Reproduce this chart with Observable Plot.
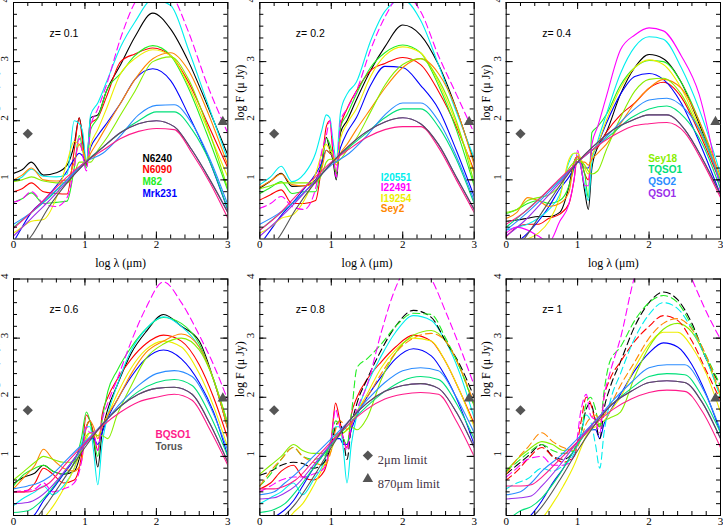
<!DOCTYPE html>
<html>
<head>
<meta charset="utf-8">
<script src="https://cdn.jsdelivr.net/npm/d3@7"></script>
<script src="https://cdn.jsdelivr.net/npm/@observablehq/plot@0.6"></script>
<style>
  body { margin: 0; background: #fff; }
  #chart svg { display: block; }
</style>
</head>
<body>
<div id="chart"></div>
<script>
// SED templates shifted to six redshifts, log F (uJy) vs observed log lambda (um)
const templates = ["N6240", "N6090", "M82", "Mrk231", "I20551", "I22491", "I19254", "Sey2",
  "Sey18", "TQSO1", "QSO2", "QSO1", "BQSO1", "Torus"];
const colors = ["#000000", "#ff0000", "#22ee22", "#0000ff", "#00eeee", "#ff00ff", "#eeee00", "#ff8800",
  "#88ee00", "#00e07a", "#2a8cff", "#9a2eea", "#ff1a8a", "#555555"];
const zLabels = ["z= 0.1", "z= 0.2", "z= 0.4", "z= 0.6", "z= 0.8", "z= 1"];

// flux limits (2um and 870um)
const limitWave = [0.2, 2.93];
const limitFlux = [1.78, 1.98];
const limitLabels = ["2μm limit", "870μm limit"];

const xTicks = [0, 1, 2, 3];
const yTicks = [1, 2, 3, 4];

// smooth AGN-like templates (TQSO1, QSO2, QSO1, BQSO1, Torus) share one grid per panel
const agnGridLow = [0, 0.25, 0.5, 0.75, 1.0, 1.25, 1.5, 1.75, 2.0, 2.25, 2.5, 2.75, 3.0];
const agnGridHigh = [0, 0.2, 0.35, 0.5, 0.75, 1.0, 1.25, 1.5, 1.75, 2.0, 2.25, 2.5, 2.75, 3.0];

// ---- z = 0.1
const grid01 = [0, 0.12, 0.25, 0.42, 0.6, 0.75, 0.85, 0.92, 0.97, 1.02, 1.08, 1.18, 1.3, 1.5, 1.7, 1.95, 2.2, 2.45, 2.7, 3.0];
const seds01 = [
  [1.11, 1.17, 1.30, 1.08, 1.12, 1.25, 1.6, 2.05, 1.7, 1.25, 2.05, 2.1, 2.5, 2.95, 3.42, 3.82, 3.55, 3.0, 2.3, 1.42],
  [0.8, 0.85, 0.95, 0.8, 0.77, 0.76, 1.5, 2.05, 1.6, 1.25, 1.95, 2.05, 2.4, 3.0, 3.13, 3.23, 3.1, 2.65, 2.0, 1.2],
  [0.62, 0.68, 0.78, 0.6, 0.62, 0.64, 1.2, 1.75, 1.5, 1.2, 1.85, 2.05, 2.5, 2.8, 3.1, 3.27, 3.1, 2.55, 1.8, 0.82],
  [-0.05, 0.2, 0.45, 0.65, 0.9, 1.15, 1.35, 1.45, 1.4, 1.3, 1.55, 1.75, 1.95, 2.3, 2.7, 2.88, 2.68, 2.1, 1.45, 0.49],
  [0.98, 1.05, 1.18, 1.06, 1.05, 1.1, 2.0, 1.95, 1.8, 1.3, 2.1, 2.3, 2.65, 3.25, 3.67, 4.05, 3.95, 3.2, 2.35, 1.34],
  [0.62, 0.68, 0.8, 0.6, 0.55, 0.7, 1.2, 1.7, 1.4, 1.15, 1.9, 2.2, 2.6, 3.4, 4.0, 4.3, 4.15, 3.5, 2.65, 1.79],
  [0.1, 0.2, 0.3, 0.33, 0.7, 1.3, 1.65, 1.6, 1.5, 1.3, 1.6, 1.85, 2.2, 2.8, 3.05, 3.2, 3.1, 2.6, 1.9, 1.05],
  [1.0, 1.08, 1.2, 1.0, 0.98, 1.0, 1.3, 1.6, 1.5, 1.3, 1.45, 1.65, 1.9, 2.3, 2.7, 3.05, 3.15, 2.85, 2.2, 1.25],
  [0.97, 1.0, 1.05, 0.98, 0.95, 0.95, 1.1, 1.3, 1.3, 1.3, 1.3, 1.5, 1.7, 2.1, 2.5, 3.0, 3.08, 2.7, 1.95, 0.85]
];
const agn01 = [
  [0.2, 0.45, 0.7, 1.0, 1.3, 1.55, 1.8, 2.0, 2.15, 2.15, 1.85, 1.3, 0.5],
  [0.25, 0.45, 0.72, 1.0, 1.3, 1.45, 1.75, 2.1, 2.26, 2.27, 1.95, 1.35, 0.58],
  [0.05, 0.35, 0.65, 0.97, 1.28, 1.55, 1.8, 1.95, 2.0, 1.9, 1.5, 1.0, 0.45],
  [0.18, 0.45, 0.75, 1.05, 1.3, 1.5, 1.7, 1.82, 1.87, 1.85, 1.45, 0.95, 0.35],
  [-0.3, 0.05, 0.55, 0.95, 1.28, 1.55, 1.8, 1.95, 2.0, 1.9, 1.5, 1.0, 0.45]
];
const dashed01 = ["I22491"];

// ---- z = 0.2
const grid02 = [0, 0.15, 0.3, 0.45, 0.62, 0.78, 0.87, 0.93, 0.98, 1.02, 1.07, 1.13, 1.22, 1.35, 1.55, 1.75, 2.0, 2.25, 2.5, 2.75, 3.0];
const seds02 = [
  [0.86, 0.98, 1.11, 0.89, 0.9, 1.0, 1.3, 1.72, 1.5, 1.35, 1.0, 1.8, 2.0, 2.35, 2.85, 3.25, 3.62, 3.45, 2.95, 2.2, 1.3],
  [0.66, 0.75, 0.83, 0.6, 0.6, 0.65, 1.3, 1.9, 2.0, 1.5, 1.1, 1.9, 2.2, 2.5, 2.85, 2.97, 3.07, 2.95, 2.5, 1.9, 1.15],
  [0.77, 0.87, 0.97, 0.77, 0.8, 0.8, 1.3, 1.7, 1.6, 1.4, 1.1, 1.9, 2.1, 2.45, 2.9, 3.15, 3.28, 3.15, 2.6, 1.85, 0.9],
  [-0.1, 0.15, 0.4, 0.6, 0.85, 1.1, 1.3, 1.5, 1.45, 1.4, 1.3, 1.55, 1.8, 2.05, 2.6, 2.92, 2.9, 2.6, 2.2, 1.5, 0.72],
  [0.92, 1.05, 1.23, 0.97, 1.1, 1.45, 1.85, 2.1, 2.05, 1.7, 1.34, 2.15, 2.45, 2.65, 3.35, 3.85, 4.05, 3.7, 2.95, 2.15, 1.37],
  [0.52, 0.6, 0.72, 0.55, 0.5, 0.85, 1.5, 1.75, 2.0, 1.6, 1.05, 2.0, 2.2, 2.5, 3.2, 3.75, 4.15, 3.85, 3.1, 2.45, 1.79],
  [0.1, 0.2, 0.35, 0.4, 0.65, 1.1, 1.45, 1.6, 1.5, 1.45, 1.3, 1.7, 1.95, 2.2, 2.75, 3.1, 3.25, 3.15, 2.65, 1.95, 1.1],
  [0.88, 0.98, 1.1, 0.92, 0.9, 0.95, 1.2, 1.5, 1.45, 1.4, 1.25, 1.45, 1.6, 1.85, 2.2, 2.55, 2.9, 3.05, 2.8, 2.2, 1.25],
  [0.85, 0.9, 0.95, 0.95, 0.95, 0.95, 1.1, 1.3, 1.35, 1.35, 1.3, 1.35, 1.5, 1.7, 2.15, 2.6, 2.95, 3.05, 2.7, 2.0, 0.95]
];
const agn02 = [
  [0.15, 0.4, 0.65, 0.95, 1.28, 1.55, 1.8, 2.05, 2.2, 2.2, 1.9, 1.35, 0.6],
  [0.25, 0.42, 0.65, 0.95, 1.25, 1.45, 1.75, 2.1, 2.3, 2.3, 2.0, 1.4, 0.65],
  [0.05, 0.32, 0.62, 0.95, 1.28, 1.58, 1.82, 1.98, 2.05, 1.95, 1.6, 1.05, 0.5],
  [0.15, 0.4, 0.72, 1.02, 1.3, 1.52, 1.72, 1.85, 1.9, 1.9, 1.55, 1.0, 0.45],
  [-0.3, 0.0, 0.5, 0.92, 1.28, 1.58, 1.82, 1.98, 2.05, 1.95, 1.6, 1.05, 0.5]
];
const dashed02 = ["I22491"];

// ---- z = 0.4
const grid04 = [0, 0.15, 0.3, 0.45, 0.6, 0.75, 0.88, 0.95, 1.0, 1.05, 1.1, 1.15, 1.2, 1.28, 1.4, 1.6, 1.8, 2.0, 2.2, 2.45, 2.7, 3.0];
const seds04 = [
  [0.3, 0.32, 0.35, 0.38, 0.38, 0.45, 0.9, 1.3, 1.4, 1.2, 0.8, 0.5, 1.2, 1.55, 1.8, 2.45, 2.9, 3.12, 3.05, 2.65, 1.95, 0.95],
  [0.04, 0.2, 0.25, 0.25, 0.35, 0.42, 0.6, 1.0, 1.4, 1.3, 1.1, 1.0, 1.5, 1.55, 1.8, 2.1, 2.3, 2.55, 2.65, 2.4, 1.8, 0.95],
  [0.43, 0.5, 0.6, 0.65, 0.6, 0.65, 0.9, 1.2, 1.4, 1.3, 1.1, 0.7, 1.8, 1.9, 2.1, 2.6, 2.9, 3.02, 3.0, 2.65, 2.0, 0.95],
  [-0.1, -0.05, 0.1, 0.3, 0.55, 0.85, 1.05, 1.2, 1.3, 1.3, 1.2, 1.2, 1.4, 1.6, 1.95, 2.45, 2.75, 2.8, 2.7, 2.3, 1.65, 0.75],
  [0.15, 0.2, 0.25, 0.35, 0.5, 0.75, 1.3, 1.45, 1.45, 1.2, 0.9, 0.65, 1.3, 1.65, 2.1, 2.8, 3.25, 3.42, 3.38, 2.9, 2.2, 1.1],
  [0.1, 0.2, 0.15, 0.05, -0.05, 0.3, 0.6, 1.0, 1.5, 1.2, 0.9, 0.9, 1.6, 1.9, 2.4, 3.2, 3.45, 3.57, 3.52, 3.1, 2.45, 0.8],
  [-0.1, -0.05, 0.0, 0.1, 0.3, 0.7, 1.35, 1.45, 1.45, 1.35, 1.2, 1.1, 1.4, 1.6, 2.0, 2.55, 2.9, 3.03, 2.95, 2.55, 1.9, 1.0],
  [0.35, 0.45, 0.7, 0.65, 0.55, 0.6, 0.8, 1.3, 1.4, 1.3, 1.3, 1.25, 1.35, 1.45, 1.6, 1.95, 2.3, 2.55, 2.7, 2.55, 2.0, 1.05],
  [0.45, 0.5, 0.65, 0.7, 0.75, 0.9, 1.2, 1.3, 1.35, 1.3, 1.25, 1.15, 1.1, 1.15, 1.5, 2.05, 2.5, 2.7, 2.72, 2.45, 1.85, 1.0]
];
const agn04 = [
  [0.2, 0.45, 0.72, 1.0, 1.3, 1.55, 1.8, 2.05, 2.2, 2.25, 2.05, 1.6, 0.85],
  [0.15, 0.4, 0.68, 0.98, 1.3, 1.55, 1.85, 2.15, 2.35, 2.38, 2.2, 1.75, 0.95],
  [0.05, 0.3, 0.62, 0.95, 1.3, 1.6, 1.85, 2.0, 2.1, 2.1, 1.85, 1.35, 0.75],
  [0.25, 0.45, 0.72, 1.02, 1.3, 1.55, 1.75, 1.9, 1.95, 1.97, 1.8, 1.3, 0.7],
  [-0.3, 0.0, 0.45, 0.9, 1.3, 1.6, 1.85, 2.0, 2.1, 2.1, 1.85, 1.35, 0.75]
];
const dashed04 = [];

// ---- z = 0.6
const grid06 = [0, 0.15, 0.3, 0.42, 0.55, 0.7, 0.85, 0.95, 1.02, 1.07, 1.12, 1.18, 1.24, 1.32, 1.45, 1.65, 1.85, 2.1, 2.35, 2.6, 2.8, 3.0];
const seds06 = [
  [0.54, 0.65, 0.72, 0.85, 0.75, 0.7, 0.75, 1.1, 1.5, 1.6, 1.3, 0.82, 1.4, 1.8, 2.2, 2.75, 3.1, 3.4, 3.2, 2.95, 2.3, 1.47],
  [0.4, 0.4, 0.55, 0.8, 0.7, 0.55, 0.6, 1.0, 1.7, 1.6, 1.4, 1.1, 1.7, 2.0, 2.3, 2.65, 2.9, 3.05, 2.95, 2.55, 2.0, 1.3],
  [0.5, 0.7, 0.8, 0.85, 0.75, 0.7, 0.9, 1.3, 1.75, 1.6, 1.3, 1.0, 1.6, 2.1, 2.45, 2.85, 3.15, 3.35, 3.25, 2.9, 2.3, 1.55],
  [-0.2, -0.1, 0.02, 0.25, 0.45, 0.7, 0.95, 1.15, 1.25, 1.3, 1.3, 1.2, 1.4, 1.65, 1.95, 2.35, 2.65, 2.8, 2.65, 2.25, 1.75, 1.0],
  [0.17, 0.3, 0.4, 0.5, 0.35, 0.5, 0.8, 1.2, 1.5, 1.5, 1.1, 0.52, 1.2, 1.7, 2.2, 2.8, 3.15, 3.36, 3.2, 2.85, 2.3, 1.5],
  [0.4, 0.42, 0.45, 0.55, 0.4, 0.45, 0.55, 0.9, 1.5, 1.4, 1.4, 1.1, 1.6, 1.9, 2.3, 2.95, 3.5, 3.95, 3.6, 3.05, 2.55, 1.95],
  [-0.3, -0.25, -0.2, -0.05, 0.15, 0.45, 0.8, 1.1, 1.3, 1.4, 1.35, 1.35, 1.5, 1.7, 2.05, 2.5, 2.8, 2.95, 2.85, 2.4, 1.85, 1.15],
  [0.45, 0.65, 0.85, 1.12, 0.95, 0.8, 0.75, 0.9, 1.5, 1.6, 1.5, 1.3, 1.5, 1.7, 1.95, 2.4, 2.75, 2.95, 3.07, 2.85, 2.3, 1.45],
  [0.6, 0.75, 0.9, 1.0, 0.95, 0.9, 0.9, 1.1, 1.35, 1.4, 1.4, 1.35, 1.35, 1.3, 1.7, 2.2, 2.65, 2.9, 3.0, 2.8, 2.3, 1.55]
];
const agn06 = [
  [0.05, 0.08, 0.2, 0.4, 0.8, 1.2, 1.55, 1.85, 2.1, 2.25, 2.3, 2.2, 1.7, 1.0],
  [0.45, 0.5, 0.55, 0.65, 0.95, 1.25, 1.55, 1.9, 2.2, 2.4, 2.45, 2.35, 1.85, 1.1],
  [0.2, 0.22, 0.3, 0.45, 0.8, 1.2, 1.55, 1.85, 2.05, 2.15, 2.17, 2.05, 1.55, 0.9],
  [0.4, 0.4, 0.45, 0.55, 0.9, 1.22, 1.52, 1.75, 1.92, 2.0, 2.05, 1.95, 1.45, 0.85],
  [-0.4, -0.2, 0.0, 0.25, 0.7, 1.15, 1.55, 1.85, 2.05, 2.15, 2.17, 2.05, 1.55, 0.9]
];
const dashed06 = ["I22491"];

// ---- z = 0.8
const grid08 = [0, 0.15, 0.3, 0.47, 0.6, 0.75, 0.9, 1.0, 1.06, 1.12, 1.17, 1.22, 1.28, 1.36, 1.5, 1.7, 1.9, 2.15, 2.4, 2.6, 2.8, 3.0];
const seds08 = [
  [0.68, 0.75, 0.85, 0.9, 0.88, 0.8, 0.9, 1.2, 1.5, 1.6, 1.3, 0.95, 1.5, 1.9, 2.3, 2.8, 3.2, 3.47, 3.35, 2.95, 2.55, 2.0],
  [0.45, 0.55, 0.75, 0.85, 0.65, 0.6, 0.75, 1.3, 1.9, 1.6, 1.3, 1.15, 1.7, 2.0, 2.3, 2.6, 2.85, 3.05, 2.95, 2.6, 2.1, 1.55],
  [0.5, 0.7, 0.95, 1.15, 1.0, 0.95, 1.0, 1.3, 1.6, 1.5, 1.3, 1.2, 1.7, 2.5, 2.65, 2.9, 3.2, 3.42, 3.4, 3.0, 2.5, 1.85],
  [-0.1, -0.05, 0.05, 0.25, 0.5, 0.8, 1.05, 1.2, 1.3, 1.3, 1.2, 1.2, 1.45, 1.7, 2.0, 2.35, 2.65, 2.82, 2.7, 2.35, 1.85, 1.2],
  [0.2, 0.3, 0.4, 0.55, 0.35, 0.6, 0.9, 1.3, 1.5, 1.5, 1.1, 0.55, 1.2, 1.7, 2.2, 2.7, 3.1, 3.38, 3.3, 2.95, 2.4, 1.65],
  [0.4, 0.5, 0.6, 0.65, 0.65, 0.7, 0.8, 1.3, 1.8, 1.5, 1.3, 1.1, 1.5, 1.8, 2.2, 3.1, 3.85, 4.3, 4.0, 3.45, 2.85, 2.2],
  [-0.3, -0.25, -0.2, 0.05, 0.2, 0.5, 0.85, 1.1, 1.3, 1.35, 1.4, 1.45, 1.55, 1.75, 2.05, 2.5, 2.8, 3.0, 2.95, 2.6, 2.1, 1.5],
  [0.5, 0.75, 0.95, 1.15, 1.0, 0.9, 0.85, 1.1, 1.45, 1.6, 1.55, 1.45, 1.55, 1.75, 2.0, 2.4, 2.75, 3.0, 3.08, 2.95, 2.5, 1.9],
  [0.7, 0.85, 1.0, 1.2, 1.1, 1.05, 1.05, 1.2, 1.35, 1.4, 1.4, 1.45, 1.5, 1.45, 1.65, 2.3, 2.75, 3.05, 3.13, 2.95, 2.5, 1.85]
];
const agn08 = [
  [0.05, 0.1, 0.2, 0.4, 0.8, 1.2, 1.55, 1.85, 2.1, 2.28, 2.35, 2.3, 1.9, 1.3],
  [0.35, 0.4, 0.55, 0.7, 1.0, 1.3, 1.6, 1.95, 2.25, 2.45, 2.5, 2.45, 2.0, 1.4],
  [0.28, 0.3, 0.38, 0.5, 0.85, 1.22, 1.6, 1.9, 2.1, 2.2, 2.23, 2.15, 1.75, 1.15],
  [0.45, 0.45, 0.5, 0.6, 0.92, 1.25, 1.55, 1.8, 1.97, 2.05, 2.08, 2.05, 1.6, 1.0],
  [-0.4, -0.2, 0.0, 0.2, 0.65, 1.15, 1.6, 1.9, 2.1, 2.2, 2.23, 2.15, 1.75, 1.15]
];
const dashed08 = ["I22491", "N6240", "M82", "Sey2"];

// ---- z = 1
const grid10 = [0, 0.15, 0.3, 0.5, 0.65, 0.8, 0.95, 1.05, 1.12, 1.18, 1.25, 1.31, 1.37, 1.45, 1.6, 1.8, 2.0, 2.2, 2.4, 2.6, 2.8, 3.0];
const seds10 = [
  [0.7, 0.85, 1.0, 1.2, 1.0, 0.95, 1.1, 1.4, 1.8, 1.9, 1.6, 1.3, 1.8, 2.15, 2.6, 3.2, 3.6, 3.78, 3.65, 3.25, 2.65, 2.2],
  [0.6, 0.75, 0.95, 1.15, 1.0, 0.9, 1.0, 1.6, 2.0, 1.9, 1.6, 1.5, 2.0, 2.3, 2.6, 2.95, 3.2, 3.38, 3.3, 2.95, 2.45, 1.95],
  [0.75, 0.9, 1.05, 1.2, 1.1, 1.05, 1.1, 1.4, 1.9, 2.0, 1.8, 1.5, 2.1, 2.6, 2.85, 3.3, 3.6, 3.72, 3.6, 3.2, 2.7, 2.2],
  [-0.2, -0.15, -0.05, 0.25, 0.55, 0.8, 1.1, 1.3, 1.4, 1.45, 1.45, 1.3, 1.55, 1.75, 2.05, 2.45, 2.75, 2.92, 2.85, 2.55, 2.05, 1.4],
  [0.45, 0.55, 0.62, 0.8, 0.75, 0.85, 1.05, 1.4, 1.7, 1.6, 1.2, 0.8, 1.4, 1.9, 2.4, 3.0, 3.4, 3.6, 3.5, 3.15, 2.65, 2.0],
  [0.65, 0.8, 0.95, 1.0, 0.85, 0.85, 1.0, 1.8, 2.05, 1.7, 1.6, 1.4, 2.0, 2.4, 3.0, 4.05, 4.6, 4.8, 4.6, 4.0, 3.45, 2.98],
  [-0.3, -0.25, -0.2, -0.05, 0.2, 0.5, 0.85, 1.15, 1.35, 1.45, 1.5, 1.55, 1.6, 1.75, 2.0, 2.5, 2.9, 3.1, 3.1, 2.85, 2.4, 1.75],
  [0.7, 0.95, 1.15, 1.4, 1.25, 1.15, 1.1, 1.3, 1.55, 1.65, 1.7, 1.65, 1.7, 1.85, 2.2, 2.6, 3.0, 3.25, 3.33, 3.15, 2.7, 2.05],
  [0.75, 0.95, 1.1, 1.25, 1.2, 1.1, 1.15, 1.3, 1.4, 1.5, 1.6, 1.55, 1.6, 1.65, 1.75, 2.35, 2.85, 3.15, 3.25, 3.1, 2.65, 2.0]
];
const agn10 = [
  [-0.1, 0.08, 0.15, 0.3, 0.7, 1.2, 1.6, 1.9, 2.15, 2.35, 2.4, 2.38, 2.0, 1.4],
  [0.35, 0.4, 0.55, 0.75, 1.0, 1.3, 1.6, 1.95, 2.25, 2.5, 2.55, 2.55, 2.15, 1.45],
  [0.28, 0.3, 0.33, 0.5, 0.85, 1.25, 1.6, 1.9, 2.1, 2.25, 2.28, 2.25, 1.9, 1.3],
  [0.5, 0.5, 0.52, 0.65, 0.95, 1.25, 1.55, 1.8, 1.97, 2.08, 2.12, 2.1, 1.75, 1.15],
  [-0.5, -0.2, -0.05, 0.15, 0.6, 1.1, 1.55, 1.9, 2.1, 2.25, 2.28, 2.25, 1.9, 1.3]
];
const dashed10 = ["I22491", "N6240", "M82", "I20551", "N6090", "Sey2"];

// which names go in which panel's legend
const legendGroups = [
  ["N6240", "N6090", "M82", "Mrk231"],
  ["I20551", "I22491", "I19254", "Sey2"],
  ["Sey18", "TQSO1", "QSO2", "QSO1"],
  ["BQSO1", "Torus"]
];

const panels = [
  [grid01, seds01, agnGridLow, agn01, dashed01],
  [grid02, seds02, agnGridLow, agn02, dashed02],
  [grid04, seds04, agnGridLow, agn04, dashed04],
  [grid06, seds06, agnGridHigh, agn06, dashed06],
  [grid08, seds08, agnGridHigh, agn08, dashed08],
  [grid10, seds10, agnGridHigh, agn10, dashed10]
];

const rows = [];
panels.forEach(([grid, seds, agnGrid, agn, dashed], i) => {
  const fx = i % 3, fy = Math.floor(i / 3);
  seds.forEach((ys, j) => {
    const name = templates[j];
    ys.forEach((y, k) => rows.push({fx, fy, name, x: grid[k], y, kind: dashed.includes(name) ? "dash" : "sb"}));
  });
  agn.forEach((ys, j) => {
    const name = templates[9 + j];
    ys.forEach((y, k) => rows.push({fx, fy, name, x: agnGrid[k], y, kind: "agn"}));
  });
});

const colorOf = (name) => colors[templates.indexOf(name)];

// layout: 3x2 panels
const W = 723, H = 527, mL = 13, mR = 3, mT = 2, mB = 12;
const padX = 0.13, padY = 0.1447;
const fw = (W - mL - mR) / (3 - padX) * (1 - padX);   // panel width, px
const fh = (H - mT - mB) / (2 - padY) * (1 - padY);   // panel height, px

// inward tick marks on all four sides of each panel (length in px)
function ticks(values, side, length) {
  const style = {stroke: "#000", strokeWidth: 1};
  if (side === "bottom") return Plot.tickX(values, {x: (d) => d, insetTop: fh - length, ...style});
  if (side === "top") return Plot.tickX(values, {x: (d) => d, insetBottom: fh - length, ...style});
  if (side === "left") return Plot.tickY(values, {y: (d) => d, insetRight: fw - length, ...style});
  return Plot.tickY(values, {y: (d) => d, insetLeft: fw - length, ...style});
}
const xMinor = d3.range(0.2, 3, 0.2);
const yMinor = d3.range(0.2, 4, 0.2);

const lineOpts = {x: "x", y: "y", z: "name", stroke: "name", fx: "fx", fy: "fy",
  curve: "monotone-x", strokeWidth: 1.1, clip: true};

const legendMarks = [];
const legendPos = [
  {dx: 129, dy: 152, step: 11.7},
  {dx: 121, dy: 171, step: 10.5},
  {dx: 142, dy: 152, step: 11.7},
  {dx: 142, dy: 152, step: 11.7}
];
legendGroups.forEach((names, i) => {
  names.forEach((name, k) => {
    legendMarks.push(Plot.text([{fx: i % 3, fy: Math.floor(i / 3), name}], {
      fx: "fx", fy: "fy", text: "name", frameAnchor: "top-left", textAnchor: "start",
      dx: legendPos[i].dx, dy: legendPos[i].dy + k * legendPos[i].step,
      fill: colorOf(name), fontFamily: "Liberation Sans", fontWeight: "bold", fontSize: 10
    }));
  });
});

// symbol key inside the z=0.8 panel
const limitKey = limitLabels.map((label, k) => [
  Plot.dot([{fx: 1, fy: 1}], {fx: "fx", fy: "fy", frameAnchor: "top-left", dx: 108, dy: 176.5 + k * 23.5,
    symbol: k === 0 ? "diamond2" : "triangle", r: k === 0 ? 4.6 : 3.9, fill: "#555"}),
  Plot.text([{fx: 1, fy: 1, label}], {fx: "fx", fy: "fy", text: "label", frameAnchor: "top-left",
    textAnchor: "start", dx: 118, dy: 176.5 + k * 23.5, fill: "#443344", fontSize: 12.5})
]).flat();

const chart = Plot.plot({
  width: W,
  height: H,
  marginLeft: mL,
  marginRight: mR,
  marginTop: mT,
  marginBottom: mB,
  x: {domain: [0, 3], axis: null},
  y: {domain: [0, 4], axis: null},
  fx: {domain: [0, 1, 2], axis: null, paddingInner: padX, paddingOuter: 0, round: false},
  fy: {domain: [0, 1], axis: null, paddingInner: padY, paddingOuter: 0, round: false},
  color: {domain: templates, range: colors},
  style: {fontFamily: "Liberation Serif", background: "#fff"},
  marks: [
    Plot.line(rows.filter((d) => d.kind === "sb"), lineOpts),
    Plot.line(rows.filter((d) => d.kind === "dash"), {...lineOpts, strokeDasharray: "7,4"}),
    Plot.line(rows.filter((d) => d.kind === "agn"), lineOpts),
    Plot.frame({stroke: "#000", strokeWidth: 1}),
    ticks(xTicks, "bottom", 7), ticks(xMinor, "bottom", 4),
    ticks(xTicks, "top", 7), ticks(xMinor, "top", 4),
    ticks(yTicks, "left", 7), ticks(yMinor, "left", 4),
    ticks(yTicks, "right", 7), ticks(yMinor, "right", 4),
    Plot.dot([limitWave[0]], {x: (d) => d, y: () => limitFlux[0], symbol: "diamond2", r: 4.6, fill: "#555"}),
    Plot.dot([limitWave[1]], {x: (d) => d, y: () => limitFlux[1], symbol: "triangle", r: 3.9, fill: "#555"}),
    Plot.text(xTicks, {x: (d) => d, text: (d) => String(d), frameAnchor: "bottom", dy: 9, fontSize: 11}),
    Plot.text(yTicks, {y: (d) => d, text: (d) => String(d), frameAnchor: "left", dx: -9, rotate: -90, fontSize: 11}),
    Plot.text([0, 1, 2], {fx: (d) => d, fy: () => 0, text: () => "log λ (μm)", frameAnchor: "bottom", dy: 28, fontSize: 12}),
    Plot.text(["log F (μ Jy)"], {text: (d) => d, frameAnchor: "left", dx: -20, rotate: -90, fontSize: 12}),
    Plot.text(zLabels, {fx: (d, i) => i % 3, fy: (d, i) => Math.floor(i / 3), text: (d) => d,
      frameAnchor: "top-left", textAnchor: "start", dx: 36, dy: 27, fontSize: 10.5, fontFamily: "Liberation Sans"}),
    ...legendMarks,
    ...limitKey
  ]
});

document.querySelector("#chart").append(chart);
</script>
</body>
</html>
